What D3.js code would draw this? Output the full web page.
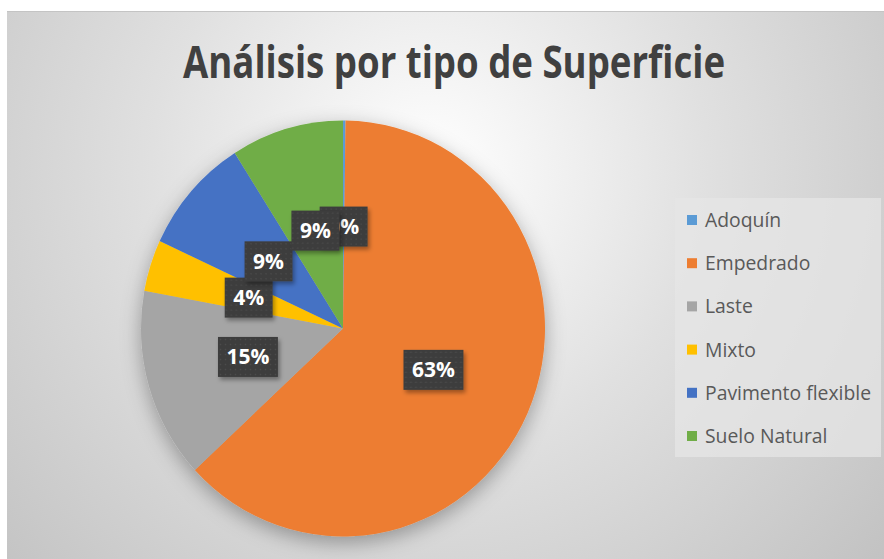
<!DOCTYPE html>
<html><head><meta charset="utf-8">
<script src="https://cdn.jsdelivr.net/npm/d3@7/dist/d3.min.js"></script>
<style>body{margin:0;background:#fff}svg{display:block}</style>
</head><body>
<svg id="c" width="884" height="559"></svg>
<script>
const categories = ["Adoquín","Empedrado","Laste","Mixto","Pavimento flexible","Suelo Natural"];
const values = [0.2, 62.9, 14.8, 4.0, 9.1, 9.0];
const colors = ["#5B9BD5","#ED7D31","#A5A5A5","#FFC000","#4472C4","#70AD47"];
const labels = ["0%","63%","15%","4%","9%","9%"];
const title = "Análisis por tipo de Superficie";

const svg = d3.select("#c");
const defs = svg.append("defs");

const bg = defs.append("radialGradient").attr("id","bg")
  .attr("gradientUnits","userSpaceOnUse")
  .attr("cx",430).attr("cy",170).attr("r",620);
bg.append("stop").attr("offset",0).attr("stop-color","#ffffff");
bg.append("stop").attr("offset",0.45).attr("stop-color","#e0e0e0");
bg.append("stop").attr("offset",1).attr("stop-color","#c0c0c0");

const sh = defs.append("filter").attr("id","pieShadow")
  .attr("x","-30%").attr("y","-30%").attr("width","160%").attr("height","160%");
sh.append("feDropShadow").attr("dx",0).attr("dy",6).attr("stdDeviation",10)
  .attr("flood-color","#000").attr("flood-opacity",0.32);

const lsh = defs.append("filter").attr("id","lblShadow")
  .attr("x","-30%").attr("y","-30%").attr("width","160%").attr("height","160%");
lsh.append("feDropShadow").attr("dx",2).attr("dy",3).attr("stdDeviation",2)
  .attr("flood-color","#000").attr("flood-opacity",0.35);

const pat = defs.append("pattern").attr("id","dots")
  .attr("patternUnits","userSpaceOnUse").attr("width",5).attr("height",5);
pat.append("rect").attr("width",5).attr("height",5).attr("fill","#3d3d3d");
pat.append("circle").attr("cx",2.5).attr("cy",2.5).attr("r",0.8).attr("fill","#4d4d4d");

svg.append("rect").attr("x",7).attr("y",11).attr("width",877).attr("height",548)
  .attr("fill","url(#bg)");
svg.append("line").attr("x1",7).attr("x2",884).attr("y1",11.5).attr("y2",11.5)
  .attr("stroke","#c4c4c4").attr("stroke-width",1);

svg.append("text").attr("x",454).attr("y",78)
  .attr("text-anchor","middle")
  .attr("font-family","'Open Sans', sans-serif").attr("font-weight","bold")
  .attr("font-size",44).attr("fill","#404040")
  .attr("textLength",542).attr("lengthAdjust","spacingAndGlyphs")
  .text(title);

const cx = 343, cy = 328.5, R = 202, sy = 208/202;
const pie = d3.pie().sort(null).value(d => d);
const arcs = pie(values);
const arc = d3.arc().innerRadius(0).outerRadius(R);
const lblArc = d3.arc().innerRadius(R*0.49).outerRadius(R*0.49);

const pg = svg.append("g").attr("transform",`translate(${cx},${cy}) scale(1,${sy})`)
  .attr("filter","url(#pieShadow)");
pg.selectAll("path").data(arcs).join("path")
  .attr("d",arc).attr("fill",(d,i)=>colors[i]);

const lg = svg.append("g");
arcs.forEach((d,i)=>{
  const c = lblArc.centroid(d);
  const x = cx + c[0], y = cy + c[1]*sy;
  const g = lg.append("g").attr("transform",`translate(${x},${y})`);
  const rect = g.append("rect").attr("fill","url(#dots)").attr("filter","url(#lblShadow)");
  const tx = g.append("text").attr("text-anchor","middle").attr("y",7.5)
    .attr("font-family","'Open Sans', sans-serif").attr("font-weight","bold")
    .attr("font-size",21).attr("fill","#ffffff").text(labels[i]);
  const w = tx.node().getComputedTextLength() + 17;
  rect.attr("x",-w/2).attr("y",-20).attr("width",w).attr("height",40);
});

svg.append("rect").attr("x",675).attr("y",198).attr("width",206).attr("height",259)
  .attr("fill","#e6e6e6").attr("fill-opacity",0.75);
const ly = d3.scalePoint().domain(categories).range([220,436]);
const leg = svg.append("g");
categories.forEach((c,i)=>{
  const y = ly(c);
  leg.append("rect").attr("x",687).attr("y",y-5).attr("width",10).attr("height",10)
    .attr("fill",colors[i]);
  leg.append("text").attr("x",705).attr("y",y+7)
    .attr("font-family","'Open Sans', sans-serif").attr("font-size",19.5)
    .attr("fill","#595959").attr("class","lt").text(c);
});
let k = 1;
leg.selectAll("text.lt").each(function(d,i){
  if (this.textContent === "Pavimento flexible") k = 166 / this.getComputedTextLength();
});
leg.selectAll("text.lt").each(function(){
  const n = this.getComputedTextLength();
  this.setAttribute("textLength", n*k);
  this.setAttribute("lengthAdjust","spacingAndGlyphs");
});
</script>
</body></html>
